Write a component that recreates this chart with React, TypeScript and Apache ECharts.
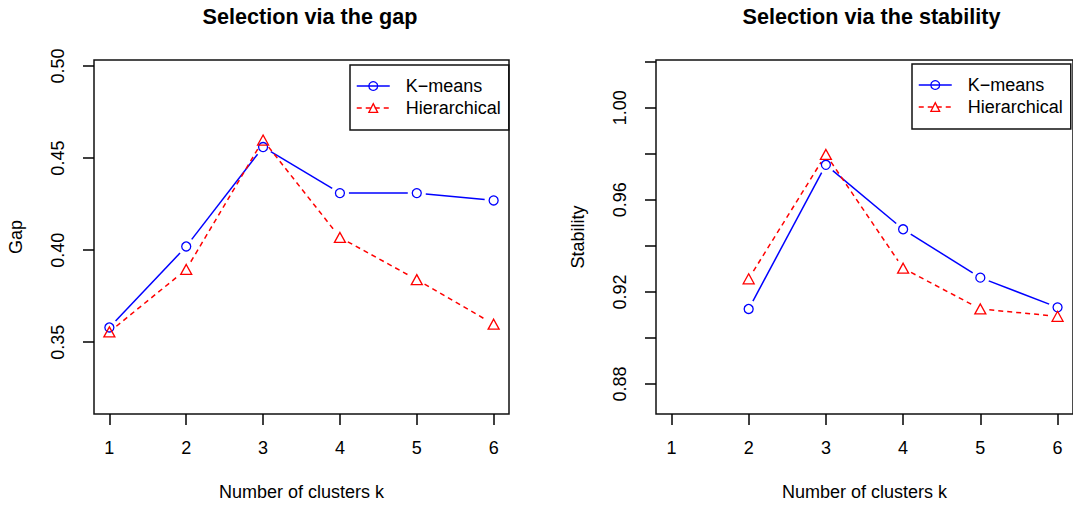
import React, { useEffect, useRef } from "react";
import * as echarts from "echarts";

const clusters = [1, 2, 3, 4, 5, 6];
const gapKmeans = [0.358, 0.402, 0.456, 0.431, 0.431, 0.427];
const gapHier = [0.3556, 0.3895, 0.4598, 0.4069, 0.384, 0.3598];
const stabKmeans: (number | null)[] = [null, 0.9126, 0.9752, 0.9472, 0.9262, 0.9133];
const stabHier: (number | null)[] = [null, 0.9257, 0.9797, 0.9303, 0.9126, 0.9094];

const gapTicks = [0.35, 0.4, 0.45, 0.5];
const stabTicks = [0.88, 0.9, 0.92, 0.94, 0.96, 0.98, 1.0, 1.02];
const stabLabels = [0.88, 0.92, 0.96, 1.0];
const xTicks = [1, 2, 3, 4, 5, 6];

const NAME_K = "K\u2212means";
const NAME_H = "Hierarchical";
const TITLE_GAP = "Selection via the gap";
const TITLE_STAB = "Selection via the stability";
const X_NAME = "Number of clusters k";

const FONT = "Liberation Sans, Arial, sans-serif";
const BLUE = "#0000ff";
const RED = "#ff0000";
const GAP_PX = 9;

function points(vals: (number | null)[]) {
  const out: number[][] = [];
  clusters.forEach((k, i) => {
    const v = vals[i];
    if (v != null) out.push([k, v]);
  });
  return out;
}

function segments(vals: (number | null)[]) {
  const out: number[][] = [];
  for (let i = 0; i < clusters.length - 1; i++) {
    const a = vals[i];
    const b = vals[i + 1];
    if (a != null && b != null) out.push([clusters[i], a, clusters[i + 1], b]);
  }
  return out;
}

function gapped(color: string, dash: number[] | null, width: number) {
  return (_params: any, api: any) => {
    const a = api.coord([api.value(0), api.value(1)]);
    const b = api.coord([api.value(2), api.value(3)]);
    const dx = b[0] - a[0];
    const dy = b[1] - a[1];
    const len = Math.hypot(dx, dy);
    if (len <= 2 * GAP_PX) return { type: "group", children: [] };
    const ux = dx / len;
    const uy = dy / len;
    return {
      type: "line",
      silent: true,
      shape: {
        x1: a[0] + ux * GAP_PX,
        y1: a[1] + uy * GAP_PX,
        x2: b[0] - ux * GAP_PX,
        y2: b[1] - uy * GAP_PX,
      },
      style: { stroke: color, lineWidth: width, lineDash: dash || undefined, fill: null },
    };
  };
}

const axisFont = { fontFamily: FONT, fontSize: 18, color: "#000" };

function xAxisFor(gridIndex: number) {
  return {
    type: "value",
    gridIndex,
    min: 0.8,
    max: 6.2,
    name: X_NAME,
    nameLocation: "middle",
    nameGap: 69,
    nameTextStyle: axisFont,
    axisLine: { show: false },
    splitLine: { show: false },
    axisTick: {
      show: true,
      length: 11,
      customValues: xTicks,
      lineStyle: { color: "#000", width: 1.5 },
    },
    axisLabel: {
      show: true,
      margin: 25,
      customValues: xTicks,
      formatter: (v: number) => String(Math.round(v)),
      ...axisFont,
    },
  };
}

function yAxisFor(gridIndex: number, min: number, max: number, name: string, ticks: number[], labels: number[]) {
  return {
    type: "value",
    gridIndex,
    min,
    max,
    name,
    nameLocation: "middle",
    nameGap: 69,
    nameRotate: 90,
    nameTextStyle: axisFont,
    axisLine: { show: false },
    splitLine: { show: false },
    axisTick: {
      show: true,
      length: 11,
      customValues: ticks,
      lineStyle: { color: "#000", width: 1.5 },
    },
    axisLabel: {
      show: true,
      rotate: 90,
      margin: 27,
      customValues: labels,
      formatter: (v: number) => v.toFixed(2),
      ...axisFont,
    },
  };
}

function legendFor(left: number, top: number) {
  return {
    orient: "vertical",
    left,
    top,
    padding: [12, 8, 13, 6],
    itemGap: 4,
    itemWidth: 33,
    itemHeight: 11,
    borderColor: "#111",
    borderWidth: 1.5,
    backgroundColor: "#fff",
    selectedMode: false,
    textStyle: { fontFamily: FONT, fontSize: 18, color: "#000", padding: [0, 0, 0, 11] },
    data: [
      {
        name: NAME_K,
        itemStyle: { color: "rgba(0,0,0,0)", borderColor: BLUE, borderWidth: 1.3 },
        lineStyle: { color: BLUE, width: 1.5, type: "solid", opacity: 1 },
      },
      {
        name: NAME_H,
        itemStyle: { color: "rgba(0,0,0,0)", borderColor: RED, borderWidth: 1.3 },
        lineStyle: { color: RED, width: 1.5, type: [5, 4], opacity: 1 },
      },
    ],
  };
}

function markerSeries(name: string, idx: number, vals: (number | null)[], color: string, symbol: string, size: any) {
  return {
    type: "line",
    name,
    xAxisIndex: idx,
    yAxisIndex: idx,
    data: points(vals),
    symbol,
    symbolSize: size,
    showSymbol: true,
    z: 4,
    lineStyle: { width: 0, color, type: "solid" },
    itemStyle: { color: "rgba(0,0,0,0)", borderColor: color, borderWidth: 1.3 },
    emphasis: { disabled: true },
  };
}

function lineSeries(idx: number, vals: (number | null)[], color: string, dash: number[] | null) {
  return {
    type: "custom",
    xAxisIndex: idx,
    yAxisIndex: idx,
    data: segments(vals),
    dimensions: ["x1", "y1", "x2", "y2"],
    encode: { x: [0, 2], y: [1, 3] },
    renderItem: gapped(color, dash, 1.5),
    z: 3,
    silent: true,
  };
}

export default function App() {
  const ref = useRef<HTMLDivElement>(null);

  useEffect(() => {
    if (!ref.current) return;
    const chart = echarts.init(ref.current, undefined, { renderer: "svg" });
    chart.setOption({
      animation: false,
      backgroundColor: "#fff",
      title: [
        {
          text: TITLE_GAP,
          left: 305,
          top: 0,
          textAlign: "center",
          textStyle: { fontFamily: FONT, fontSize: 21.6, fontWeight: "bold", color: "#000" },
        },
        {
          text: TITLE_STAB,
          left: 866.5,
          top: 0,
          textAlign: "center",
          textStyle: { fontFamily: FONT, fontSize: 21.6, fontWeight: "bold", color: "#000" },
        },
      ],
      legend: [legendFor(350, 65), legendFor(912, 64)],
      grid: [
        { left: 94, top: 60, width: 415, height: 354, show: true, borderColor: "#111", borderWidth: 1.5, backgroundColor: "transparent" },
        { left: 656, top: 60, width: 421, height: 354, show: true, borderColor: "#111", borderWidth: 1.5, backgroundColor: "transparent" },
      ],
      xAxis: [xAxisFor(0), xAxisFor(1)],
      yAxis: [
        yAxisFor(0, 0.311, 0.5033, "Gap", gapTicks, gapTicks),
        yAxisFor(1, 0.867, 1.0207, "Stability", stabTicks, stabLabels),
      ],
      series: [
        lineSeries(0, gapKmeans, BLUE, null),
        lineSeries(0, gapHier, RED, [5, 4]),
        markerSeries(NAME_K, 0, gapKmeans, BLUE, "circle", 9),
        markerSeries(NAME_H, 0, gapHier, RED, "triangle", [11, 10]),
        lineSeries(1, stabKmeans, BLUE, null),
        lineSeries(1, stabHier, RED, [5, 4]),
        markerSeries(NAME_K, 1, stabKmeans, BLUE, "circle", 9),
        markerSeries(NAME_H, 1, stabHier, RED, "triangle", [11, 10]),
      ],
    });
    return () => chart.dispose();
  }, []);

  return <div ref={ref} style={{ width: 1073, height: 507, position: "absolute", left: 0, top: 0 }} />;
}
